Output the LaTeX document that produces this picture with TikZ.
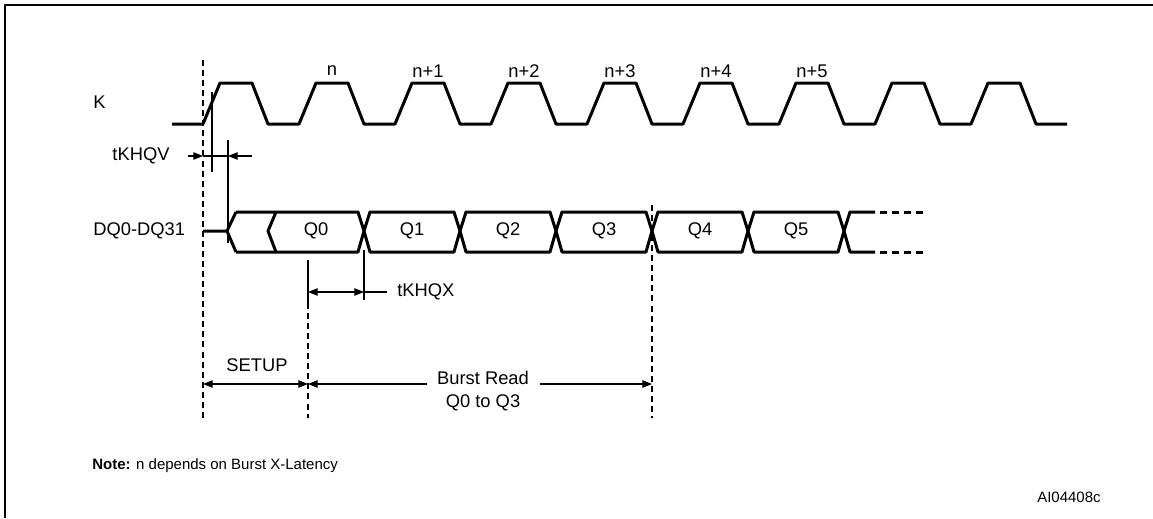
\documentclass[tikz,border=0pt]{standalone}
\usepackage{fontspec}
\setmainfont{Liberation Sans}
\usetikzlibrary{arrows.meta}
\begin{document}
\begin{tikzpicture}[x=0.567pt,y=-0.567pt,>={Triangle[length=5.5pt,width=4.2pt]}, font=\fontsize{10.4}{12}\selectfont, line join=round]
	\tikzset{sig/.style={line width=1.7pt},
		guide/.style={line width=0.6pt},
		vline/.style={line width=0.6pt,dash pattern=on 3.4pt off 2.3pt},
		small/.style={font=\fontsize{8.5}{10}\selectfont},
		every node/.append style={inner sep=0pt}}
	\def \per{96}\def \kl{124}\def \kh{83}\def \qt{212}\def \qm{231}\def \qb{252}\def \dx{6}
	\useasboundingbox (0,0) rectangle (1153,518);
	% frame
	\draw[line width=1.3pt] (5,518)--(5,5)--(1153,5);
	% clock K
	\node[anchor=west] (klab) at (93,102) {K};
	\draw[sig] (172,\kl) foreach \i in {0,...,8} {
		-- ({203+\per*\i},\kl) -- ({220+\per*\i},\kh) -- ({252+\per*\i},\kh) -- ({268+\per*\i},\kl)} -- (1067,\kl);
	\foreach \i/\t in {1/n,2/n+1,3/n+2,4/n+3,5/n+4,6/n+5}
		\node (edge\i) at ({236+\per*\i},71) {\t};
	% data DQ
	\node[anchor=west] (dqlab) at (93,\qm) {DQ0-DQ31};
	\draw[sig] (203,\qm) -- (227,\qm) (236,\qt) -- (227,\qm) -- (236,\qb);
	\draw[sig] (276,\qt) -- (268,\qm) -- (276,\qb);
	\draw[sig] (236,\qt) -- ({364-\dx},\qt) -- (364,\qm) -- ({364-\dx},\qb) -- (236,\qb);
	\foreach \i [evaluate=\i as \a using 268+\per*\i, evaluate=\i as \b using 364+\per*\i] in {1,...,5}
		\draw[sig] (\a,\qm) -- ({\a+\dx},\qt) -- ({\b-\dx},\qt) -- (\b,\qm) -- ({\b-\dx},\qb) -- ({\a+\dx},\qb) -- cycle;
	\draw[sig] (844,\qm) -- ({844+\dx},\qt) -- (875,\qt) (844,\qm) -- ({844+\dx},\qb) -- (875,\qb);
	\draw[sig,dash pattern=on 4pt off 2.8pt] (880,\qt) -- (926,\qt) (880,\qb) -- (926,\qb);
	\foreach \i in {0,...,5}
		\node (q\i) at ({316+\per*\i},\qm) {Q\i};
	% timing marks
	\draw[vline] (203,60) -- (203,418);
	\draw[guide] (212,92) -- (212,172);
	\draw[guide] (228,140) -- (228,243);
	\draw[guide] (308,260) -- (308,303);
	\draw[vline] (308,303) -- (308,418);
	\draw[vline] (652,205) -- (652,418);
	\draw[guide] (364,250) -- (364,300);
	% tKHQV
	\node (tkhqv) at (141,156) {tKHQV};
	\coordinate (va) at (188,156);
	\coordinate (vb) at (203,156);
	\coordinate (vc) at (228,156);
	\coordinate (vd) at (252,156);
	\draw[guide,->] (va) -- (vb);
	\draw[guide] (vb) -- (vc);
	\draw[guide,->] (vd) -- (vc);
	% tKHQX
	\node[anchor=west] (tkhqx) at (397,292) {tKHQX};
	\coordinate (xa) at (308,292);
	\coordinate (xb) at (364,292);
	\draw[guide,<->] (xa) -- (xb);
	\draw[guide] (xb) -- (tkhqx.west -| 387,292);
	% SETUP and burst
	\node (setup) at (257,365) {SETUP};
	\node (burst) at (483,378) {Burst Read};
	\node (burst2) at (483,403) {Q0 to Q3};
	\coordinate (sa) at (203,384);
	\coordinate (sb) at (308,384);
	\coordinate (sc) at (652,384);
	\coordinate (bl) at (427,384);
	\coordinate (br) at (540,384);
	\draw[guide,<->] (sa) -- (sb);
	\draw[guide,<-] (sb) -- (bl);
	\draw[guide,->] (br) -- (sc);
	% notes
	\node[small,anchor=west] (note) at (92,466) {\textbf{Note:} n depends on Burst X-Latency};
	\node[small,anchor=east] (figid) at (1101,497) {AI04408c};
\end{tikzpicture}
\end{document}
